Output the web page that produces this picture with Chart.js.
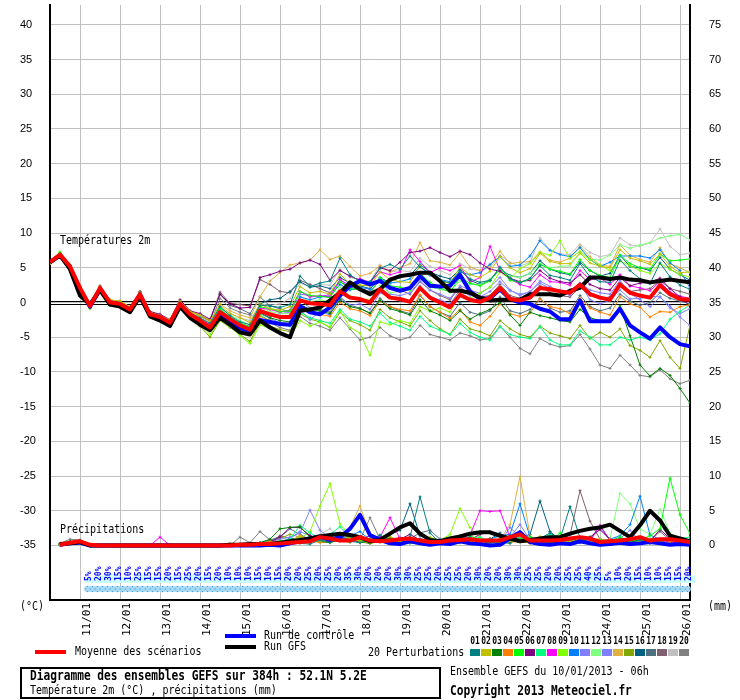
<!DOCTYPE html>
<html lang="fr">
<head>
<meta charset="utf-8">
<title>Diagramme des ensembles GEFS</title>
<script src="https://cdn.jsdelivr.net/npm/chart.js@4.4.1/dist/chart.umd.min.js"></script>
<style>
  html, body { margin: 0; padding: 0; background: #fff; }
  #wrap { width: 740px; height: 700px; }
</style>
</head>
<body>
<div id="wrap"><canvas id="gefs" width="740" height="700"></canvas></div>
<script>
// Echéances (heures depuis le run du 10/01 06h)
const forecastHours = [0,6,12,18,24,30,36,42,48,54,60,66,72,78,84,90,96,102,108,114,120,126,132,138,144,150,156,162,168,174,180,186,192,198,204,210,216,222,228,234,240,246,252,258,264,270,276,282,288,294,300,306,312,318,324,330,336,342,348,354,360,366,372,378,384];
const dayHours = [18,42,66,90,114,138,162,186,210,234,258,282,306,330,354,378];
const dateLabels = ['11/01','12/01','13/01','14/01','15/01','16/01','17/01','18/01','19/01','20/01','21/01','22/01','23/01','24/01','25/01','26/01'];
const tempTicks = [-35,-30,-25,-20,-15,-10,-5,0,5,10,15,20,25,30,35,40];
const mmTicks = [0,5,10,15,20,25,30,35,40,45,50,55,60,65,70,75];

// Probabilité de précipitations (%)
const rainProb = [null,null,null,null,
  5,20,30,15,10,25,15,15,20,15,25,20,15,20,10,10,10,15,10,15,20,20,25,20,25,20,35,30,20,20,
  20,30,30,25,25,20,25,25,20,30,20,20,30,30,25,25,20,20,25,25,40,25,5,10,20,15,10,10,15,15,20];

// Températures 2m
const tMean = [5.8,6.9,5.2,2.1,-0.5,2.1,0,-0.2,-1,1.2, -1.7,-2.1,-2.9,-0.2,-1.7,-2.6,-3.6,-1.4,-2.4,-3.3,
  -3.9,-1.2,-1.7,-2.1,-2.1,0.3,-0.1,-0.2,-0.4,1.6, 0.7,0.5,0,1.9,0.7,0.5,0.1,2.1,0.7,0,
  -0.7,1.1,0.4,0.1,0.7,2.1,0.5,0.3,0.7,2.1, 1.9,1.6,1.4,2.6,1.2,0.7,0.4,2.6,1.4,1, 0.7,2.5,1.2,0.5,0.4];
const tControl = [5.8,6.8,5.0,1.9,-0.6,1.9,-0.2,-0.4,-1.3,1.0, -1.9,-2.4,-3.2,-0.5,-2.0,-3.0,-3.9,-1.8,-2.8,-3.7,
  -4.2,-2.5,-2.8,-3.1,-3.2,-0.5,-1.4,-1.7,-0.7,1.0, 2.4,3.1,2.6,3.1,2.1,1.7,2.1,3.8,2.4,2.3,
  2.4,4.0,1.6,0.5,0.6,1.9,0.5,0,-0.2,-0.9, -1.3,-2.4,-2.4,0.3,-2.7,-2.7,-2.7,-0.9,-3.3,-4.3, -5.2,-3.6,-5.0,-6.0,-6.3];
const tGfs = [5.8,6.8,4.8,1.0,-0.3,1.8,-0.3,-0.6,-1.4,0.9, -2.0,-2.6,-3.4,-0.6,-2.2,-3.2,-4.0,-2.2,-3.2,-4.3,
  -4.6,-2.6,-3.6,-4.4,-5.0,-1.2,-1.0,-0.7,0.3,1.4, 2.9,1.9,1.2,1.9,3.3,3.8,4.0,4.3,4.3,3.1,
  1.7,1.7,1.4,0.7,0.3,0.4,0.4,0.4,1.2,1.2, 1.2,1.0,1.7,2.1,3.6,3.6,3.4,3.6,3.3,3.2, 2.9,3.1,3.3,3.1,2.9];

const tPert01 = [5.9,6.8,5.3,2.3,-0.4,2.0,0.1,-0.1,-1.1,1.4,-1.5,-2.0,-2.8,0.0,-1.6, -2.2,-3.0,-0.6,-1.9,-2.8,-3.2,
  -0.4,-0.5,-0.7,-0.3,3.8,2.3,2.8,3.1,6.4,4.0, 3.0,3.0,4.9,5.5,4.8,6.7,5.1,4.2,3.2,2.8,
  4.6,3.4,2.9,3.2,5.1,3.5,2.8,3.5,5.3,3.9, 3.6,3.2,5.6,3.7,3.0,2.9,6.1,4.6,3.4,2.7,5.7,3.7,2.5,1.9];
const tPert02 = [5.7,6.9,5.1,2.0,-0.6,2.3,0.4,0.2,-0.6,1.5,-1.4,-1.9,-2.5,0.2,-1.3, -1.8,-2.6,-0.4,-1.6,-2.2,-2.9,
  -0.2,-0.9,-1.1,-0.6,2.3,1.4,1.6,1.2,4.1,2.7, 2.5,2.4,4.4,3.3,3.0,2.9,5.3,4.0,3.0,2.8,
  5.1,4.0,3.6,4.5,6.6,5.0,4.3,4.9,7.1,5.9, 5.6,5.6,7.1,5.7,5.2,5.0,7.6,6.4,6.0,5.5,7.0,5.2,4.3,4.4];
const tPert03 = [5.8,7.0,5.0,1.9,-0.7,1.9,-0.2,-0.4,-1.3,1.0,-1.9,-2.4,-3.1,-0.4,-2.0, -2.9,-4.0,-1.6,-2.8,-3.7,-4.3,
  -1.5,-2.2,-2.6,-2.8,-0.3,-1.0,-1.2,-1.6,0.4,-0.6, -0.9,-1.5,0.3,-0.9,-1.3,-1.8,0.4,-1.2,-1.8,-2.6,
  -1.2,-2.4,-1.6,-1.0,0.0,-1.8,-3.3,-1.4,-1.9,-2.2, -2.6,-2.8,-1.0,-2.2,-2.6,-2.7,-0.5,-4.8,-9.0,-10.6,-9.5,-10.5,-12.4,-14.5];
const tPert04 = [5.6,6.8,5.2,2.2,-0.6,2.1,-0.3,-0.5,-1.2,1.3,-1.8,-2.2,-3.0,-0.1,-1.9, -2.8,-3.7,-1.8,-2.9,-3.6,-4.2,
  -2.0,-2.6,-3.0,-3.2,-0.8,-1.4,-1.7,-2.0,0.0,-0.9, -1.2,-1.9,0.2,-0.6,-1.0,-1.2,1.1,-0.6,-1.4,-2.3,
  -1.0,-2.8,-3.3,-2.0,-0.2,-1.6,-2.0,-1.5,0.5,-0.6, -0.9,-1.6,0.6,-0.8,-1.4,-1.8,0.8,-0.2,-0.7,-2.1,-1.3,-1.4,-0.6,-0.3];
const tPert05 = [5.8,7.2,5.4,2.2,-0.4,2.2,0.1,0.0,-0.9,1.3,-1.6,-2.0,-2.7,0.0,-1.6, -2.4,-3.4,-1.0,-2.1,-3.0,-3.5,
  -0.6,-0.9,-1.3,-1.2,1.6,1.0,0.9,0.7,3.0,2.0, 1.8,1.2,3.6,2.4,2.2,1.8,4.2,2.9,2.1,1.5,
  3.6,2.8,2.4,3.1,5.0,3.2,2.9,3.4,5.5,4.8, 4.5,4.1,6.2,4.6,3.9,3.6,6.8,5.6,5.0,4.8,7.0,6.0,6.1,6.3];
const tPert06 = [5.9,7.0,5.3,2.3,-0.3,2.4,0.3,0.1,-0.8,1.6,-1.3,-1.7,-2.5,0.4,-1.2, -1.6,-2.4,1.2,-0.2,-0.8,-0.7,
  3.6,4.0,4.5,4.8,5.7,6.1,5.5,3.2,4.6,3.8, 3.2,2.8,5.0,4.6,5.8,7.2,7.4,7.9,7.2,6.6,
  7.4,6.9,5.7,4.8,4.5,3.5,3.0,3.2,4.6,3.5, 3.0,2.8,4.0,2.6,2.0,1.8,3.6,2.4,2.8,2.9,3.5,2.0,0.8,-0.5];
const tPert07 = [5.7,6.9,5.2,2.0,-0.6,2.0,-0.1,-0.3,-1.1,1.1,-1.8,-2.3,-3.1,-0.3,-1.9, -2.6,-3.3,-0.8,-2.2,-2.9,-3.6,
  -1.8,-2.6,-3.0,-3.4,-1.4,-2.2,-2.6,-3.0,-1.0,-2.4, -2.8,-3.4,-1.5,-2.9,-3.4,-4.0,-2.0,-3.4,-4.0,-4.6,
  -3.0,-4.3,-5.0,-5.4,-3.5,-4.6,-5.0,-5.2,-3.5,-5.4, -6.1,-6.1,-4.1,-5.0,-6.1,-6.1,-5.0,-5.4,-5.0,-5.4,-4.5,-2.4,-1.3,-0.3];
const tPert08 = [5.8,6.9,5.2,2.1,-0.5,2.2,0.2,0.1,-0.8,1.4,-1.6,-1.9,-2.6,0.1,-1.5, -2.3,-3.2,-1.1,-2.0,-3.0,-3.5,
  -0.8,-1.0,-1.4,-1.1,1.6,0.8,1.0,0.9,3.3,2.4, 3.4,2.9,4.4,4.0,4.4,7.6,5.9,4.3,5.0,4.6,
  5.3,2.9,3.6,8.1,4.6,3.4,2.6,2.2,4.0,3.0, 2.9,2.5,4.6,3.3,3.5,2.6,4.0,2.4,2.1,1.7,3.0,1.5,0.9,0.6];
const tPert09 = [5.7,7.3,5.0,1.8,-0.8,1.9,-0.2,-0.5,-1.4,1.0,-2.0,-2.5,-3.3,-0.5,-2.2, -3.2,-4.6,-2.6,-3.5,-4.8,-5.9,
  -3.2,-3.8,-4.3,-5.0,-2.6,-3.4,-2.8,-3.5,-1.2,-3.6, -4.4,-7.6,-2.8,-3.2,-2.6,-3.0,-0.6,-1.2,-0.8,-1.4,
  1.2,0.6,1.4,2.2,4.4,3.4,4.9,5.6,7.2,6.8, 8.9,6.3,7.4,6.2,5.4,4.6,6.0,5.3,4.6,4.2,5.6,4.8,4.0,3.7];
const tPert10 = [5.9,7.0,5.2,2.0,-0.5,2.1,0.0,-0.2,-1.0,1.2,-1.7,-2.1,-3.0,-0.3,-1.8, -2.7,-3.8,-1.6,-2.5,-3.4,-4.0,
  -1.0,-1.8,-2.2,-2.0,0.8,0.4,0.8,0.9,2.6,1.8, 2.2,1.9,3.6,2.8,3.0,3.4,5.2,3.9,3.3,3.0,
  4.4,4.0,4.3,5.5,6.6,5.2,5.4,6.7,8.9,7.5, 6.9,6.6,7.9,6.2,5.2,5.8,6.7,6.7,6.7,6.4,7.6,5.7,4.6,2.1];
const tPert11 = [5.8,6.8,5.2,2.1,-0.4,2.1,0.1,-0.1,-0.9,1.3,-1.6,-2.0,-2.8,-0.1,-1.6, -2.5,-3.5,-1.3,-2.3,-3.2,-3.7,
  -1.6,-2.3,-2.9,-3.3,-1.0,-2.5,-1.3,-1.8,0.6,-0.4, -0.2,-1.0,1.4,0.8,0.3,0.0,2.4,0.8,0.4,-0.2,
  1.8,1.0,0.8,1.6,3.0,1.7,1.2,1.5,3.1,2.3, 1.6,1.2,2.7,0.4,-0.2,0.3,1.8,0.5,0.6,0.9,0.8,-0.5,-2.1,-3.3];
const tPert12 = [5.8,6.9,5.3,2.2,-0.4,2.3,0.2,0.0,-0.8,1.4,-1.5,-1.9,-2.6,0.0,-1.5, -2.2,-3.1,-0.8,-1.8,-2.6,-3.2,
  -0.7,-1.3,-1.6,-1.6,0.9,0.1,0.4,0.1,2.2,1.0, 0.6,0.4,2.4,1.4,1.6,1.8,3.5,2.2,1.9,1.6,
  3.1,2.6,2.6,3.4,4.8,3.8,3.6,4.2,5.6,5.0, 5.2,5.3,7.1,6.2,6.1,6.8,8.3,7.8,8.3,8.6,9.3,9.6,9.8,9.0];
const tPert13 = [5.7,6.9,5.1,2.0,-0.6,2.0,-0.1,-0.3,-1.1,1.1,-1.8,-2.2,-3.0,-0.3,-1.8, -2.7,-3.7,-1.7,-2.6,-3.5,-4.1,
  -1.4,-2.0,-1.6,-1.4,1.2,1.0,0.8,1.2,3.3,2.0, 1.8,1.4,3.4,1.2,1.0,1.4,3.1,1.8,1.2,0.6,
  2.4,1.8,1.3,2.2,3.6,1.8,1.0,1.6,2.8,2.0, 1.8,1.0,2.8,1.8,1.4,1.2,3.2,1.3,0.4,-0.6,0.8,-0.8,-1.6,-0.9];
const tPert14 = [5.8,7.1,5.3,2.2,-0.4,2.3,0.3,0.2,-0.7,1.6,-1.3,-1.8,-2.5,0.2,-1.3, -2.0,-2.8,-0.2,-1.2,-1.8,-2.2,
  0.8,3.1,4.3,5.4,5.7,6.1,7.6,6.2,6.7,5.2, 3.8,4.2,5.3,4.4,5.0,5.6,8.6,6.0,5.8,5.4,
  7.2,5.1,4.6,5.3,7.4,5.6,5.8,5.9,7.3,6.1, 5.8,6.4,8.1,6.6,5.4,5.2,8.3,6.8,6.2,5.8,7.9,5.6,5.0,4.3];
const tPert15 = [5.7,7.0,5.0,1.8,-0.9,1.8,-0.4,-0.6,-1.4,1.0,-2.1,-2.6,-3.4,-0.6,-2.3, -3.4,-5.0,-2.6,-3.6,-4.6,-5.6,
  -2.8,-3.4,-3.9,-4.2,-1.6,-2.4,-2.8,-3.6,-1.4,-2.6, -3.2,-4.0,-1.0,-2.2,-2.8,-3.4,-1.2,-2.6,-3.8,-4.6,
  -2.4,-3.8,-4.2,-4.8,-2.6,-3.8,-4.6,-5.0,-3.4,-4.4, -4.8,-5.2,-3.3,-5.2,-4.3,-5.0,-3.8,-6.2,-6.9,-7.9,-5.5,-7.9,-9.5,-3.3];
const tPert16 = [5.9,7.0,5.3,2.1,-0.5,2.2,0.1,0.0,-0.9,1.3,-1.6,-2.0,-2.8,-0.1,-1.6, -2.4,-3.4,-1.2,-2.2,-3.0,-3.5,
  -0.2,0.4,0.6,1.6,3.0,2.2,2.4,2.0,3.6,2.8, 2.4,2.0,3.4,3.0,3.6,3.9,5.5,4.4,3.8,3.4,
  4.8,3.2,2.6,3.2,4.8,3.9,3.6,4.2,6.0,4.8, 4.3,4.0,5.8,4.6,3.8,4.2,6.8,5.2,5.0,4.6,6.5,4.8,4.0,3.2];
const tPert17 = [5.8,6.9,5.2,2.1,-0.5,2.0,0.0,-0.2,-1.0,1.2,-1.7,-2.1,-2.9,-0.2,-1.7, -2.0,-2.6,1.2,-0.4,-0.9,-1.6,
  0.8,-0.5,-0.9,-1.4,0.4,-0.8,-1.0,-1.4,0.8,-0.4, -0.8,-1.6,0.6,-0.6,-1.2,-1.6,1.0,-0.6,-1.4,-2.0,
  0.0,-1.4,-1.8,-1.2,0.8,-1.2,-1.6,-1.0,0.6,-0.8, -1.4,-1.2,1.0,-0.6,-1.2,-0.8,1.2,0.2,-0.4,0.0,1.4,0.6,0.2,-0.2];
const tPert18 = [5.8,6.9,5.2,2.2,-0.4,2.2,0.2,0.0,-0.9,1.4,-1.5,-1.9,-2.6,0.1,-1.4, -1.8,-2.6,1.5,-0.1,-0.3,-0.5,
  3.3,2.6,1.6,1.4,3.2,2.6,2.0,1.4,3.0,2.2, 2.0,1.6,3.2,2.0,1.8,1.2,3.0,1.8,1.0,0.4,
  2.2,1.2,0.8,1.0,2.6,1.0,0.6,1.2,2.4,1.4, 1.0,0.8,2.2,1.0,0.6,0.8,2.8,1.6,1.8,2.0,3.2,2.0,1.6,1.2];
const tPert19 = [5.9,7.0,5.3,2.3,-0.3,2.3,0.3,0.2,-0.7,1.6,-1.3,-1.7,-2.4,0.3,-1.2, -1.9,-2.8,-0.8,-1.6,-2.2,-2.6,
  -0.2,-0.4,-0.2,0.6,2.8,2.3,2.6,2.5,4.8,3.6, 3.4,3.0,5.4,4.4,4.6,4.4,6.4,5.2,4.6,4.0,
  5.6,4.8,4.6,5.0,6.8,5.8,5.2,5.8,9.3,7.6, 7.0,6.9,8.4,7.2,6.6,6.9,9.3,8.3,8.1,8.6,10.6,8.1,6.9,7.1];
const tPert20 = [5.7,6.8,5.0,1.9,-0.7,1.9,-0.3,-0.4,-1.2,1.0,-1.9,-2.4,-3.2,-0.5,-2.0, -2.6,-3.2,0.6,-0.8,-1.4,-1.8,
  -2.4,-2.9,-3.6,-4.0,-2.0,-3.0,-3.4,-4.0,-2.2,-3.8, -5.4,-5.0,-3.6,-4.8,-5.4,-5.0,-3.3,-4.6,-5.0,-5.4,
  -4.4,-4.8,-5.4,-5.2,-3.4,-5.0,-6.6,-7.4,-5.2,-6.0, -6.4,-6.2,-4.6,-6.7,-9.0,-9.5,-7.6,-9.0,-10.5,-10.7,-9.7,-11.0,-11.7,-11.2];

// Précipitations (mm / 6h)
const pMean = [null, 0.1,0.4,0.6,0.1,0,0,0,0,0,0, 0,0,0,0,0,0,0,0,0.1,0.1, 0.2,0.2,0.3,0.4,0.5,0.6,1.2,1.0,0.7,0.7,
  1.2,0.7,0.6,0.7,0.9,1.0,0.7,0.5,0.5,0.7, 0.8,0.9,0.7,0.7,0.7,1.2,1.6,0.7,0.7,0.7, 0.8,1.0,1.2,1.0,0.5,0.6,0.7,0.9,1.2,0.7, 0.9,0.9,0.7,0.5];
const pControl = [null, 0.1,0.3,0.4,0,0,0,0,0,0,0, 0,0,0,0,0,0,0,0,0,0, 0,0.1,0,0.3,0.6,1.0,1.3,0.8,1.2,2.4,
  4.4,1.5,0.8,0.3,0.2,0.6,0.3,0.1,0.3,0.2, 0.6,0.3,0.2,0,0.1,1.0,1.9,0.5,0.2,0.1, 0.3,0.2,0.6,0.3,0.1,0.2,0.4,0.2,0.3,0.5, 0.3,0.1,0.2,0.1];
const pGfs = [null, 0.2,0.3,0.5,0,0,0,0,0,0,0, 0,0,0,0,0,0,0,0.1,0.1,0.2, 0.2,0.2,0.4,0.6,0.8,1.0,1.3,1.5,1.7,1.5,
  1.2,0.6,0.8,1.7,2.6,3.2,1.7,0.8,0.6,1.0, 1.3,1.7,1.9,1.9,1.4,1.0,0.6,0.8,1.0,1.2, 1.2,1.7,2.1,2.4,2.6,3.0,2.1,1.2,2.9,5.0, 3.6,1.4,1.0,0.6];

const pPert01 = [null, 0.2,0.5,0.6,0.1,0,0,0,0,0,0, 0,0,0,0,0,0,0,0,0.2,0.1, 0.3,0.2,0.4,0.6,0.3,0.2,0.8,0.5,1.2,0.6,
  0.4,0.8,1.5,0.6,0.8,1.2,7.0,1.8,0.4,0.3, 0.9,1.2,0.6,0.4,0.5,0.3,1.6,0.4,1.0,1.8, 0.9,5.6,1.1,0.4,0.3,0.6,0.9,0.4,0.8,0.5, 0.3,1.2,0.6,0.4];
const pPert02 = [null, 0.1,0.4,0.5,0.1,0,0,0,0,0,0, 0,0,0,0,0,0,0,0,0,0, 0.1,0.3,0.2,0.5,1.4,0.8,0.6,0.9,1.6,1.0,
  0.6,0.4,0.8,1.3,0.5,0.4,0.7,1.1,0.6,0.3, 0.5,0.8,0.4,0.3,0.9,0.6,0.5,0.4,1.3,0.7, 0.4,0.6,1.0,0.5,0.2,0.8,0.4,0.3,0.6,0.9, 0.5,0.3,0.2,0.4];
const pPert03 = [null, 0.2,0.6,0.7,0.1,0,0,0,0,0,0, 0,0,0,0,0,0,0,0,0,0.2, 0.4,0.9,2.4,2.6,2.7,1.2,0.6,0.4,0.8,1.0,
  0.5,0.3,0.6,1.1,0.9,0.4,0.3,0.6,0.8,0.5, 0.4,1.0,0.6,0.3,0.8,1.4,2.0,0.6,0.4,0.3, 0.6,0.8,0.4,1.2,0.5,0.3,0.6,0.4,0.8,0.3, 0.5,0.2,0.4,0.3];
const pPert04 = [null, 0.1,0.3,0.5,0.1,0,0,0,0,0,0, 0,0,0,0,0,0,0,0.3,0,0.1, 0.2,0.6,0.3,0.5,1.4,0.7,0.4,0.5,0.8,0.6,
  1.0,0.4,0.6,0.5,0.3,0.8,0.4,0.6,0.2,0.5, 0.6,0.4,0.8,0.5,0.9,0.4,0.7,0.3,0.5,0.6, 0.8,0.4,0.6,0.3,0.4,0.9,0.5,0.3,0.6,0.8, 1.0,0.6,0.8,0.5];
const pPert05 = [null, 0.2,0.5,0.6,0.1,0,0,0,0,0,0, 0,0,0,0,0,0,0,0,0,0, 0.1,0.3,0.6,0.4,0.5,0.8,0.6,1.2,0.7,0.5,
  0.8,0.4,0.6,1.0,0.5,0.3,0.7,0.4,0.6,0.9, 0.5,1.4,0.8,0.6,0.4,0.7,0.9,1.2,0.5,0.6, 1.8,0.9,0.6,0.4,0.8,0.5,1.2,0.6,0.8,1.4, 2.4,9.7,4.4,1.7];
const pPert06 = [null, 0.1,0.4,0.5,0.1,0,0,0,0,0,0, 0,0,0,0,0,0,0,0,0,0, 0.3,0.5,1.2,2.6,2.6,1.4,0.8,0.5,1.0,0.6,
  0.8,1.4,0.6,0.4,0.9,1.6,0.8,0.4,0.6,0.5, 1.2,0.8,1.6,2.0,1.4,0.6,0.8,0.5,0.4,0.6, 0.9,0.6,0.8,1.2,2.3,0.9,0.5,0.8,1.2,0.6, 2.3,1.0,0.6,0.4];
const pPert07 = [null, 0.1,0.3,0.5,0.1,0,0,0,0,0,0, 0,0,0,0,0,0,0,0,0,0, 0.2,0.4,0.6,0.9,2.9,1.8,1.0,1.6,2.7,1.2,
  0.6,0.9,0.5,0.4,0.8,0.6,0.4,1.0,0.5,0.3, 0.6,0.9,1.2,0.5,0.6,0.4,1.0,0.6,0.9,1.6, 0.8,0.5,0.6,1.0,0.4,0.7,1.2,0.6,0.4,0.9, 0.6,0.8,1.0,1.2];
const pPert08 = [null, 0.2,0.5,0.6,0.1,0,0,0,0,0,0, 1.2,0,0,0,0,0,0,0,0,0, 0.2,0.3,0.5,0.4,0.6,0.8,1.0,0.6,0.9,0.7,
  0.5,0.8,1.2,4.0,0.9,0.6,0.4,0.8,0.6,0.5, 1.0,1.5,5.0,4.9,5.0,1.2,0.8,0.4,0.6,0.9, 0.6,0.8,1.0,0.6,2.9,0.8,0.5,0.9,1.1,0.6, 0.8,0.5,0.4,0.6];
const pPert09 = [null, 0.1,0.4,0.6,0.1,0,0,0,0,0,0, 0,0,0,0,0,0,0,0,0,0, 0.1,0.2,0.4,0.6,1.0,2.0,5.7,8.9,3.1,1.4,
  0.6,0.4,0.8,1.0,0.6,0.8,0.5,1.2,0.7,1.6, 5.3,2.6,1.0,0.6,0.8,0.5,1.4,0.6,0.9,1.2, 0.7,0.9,0.6,1.0,0.5,0.8,0.6,1.2,0.9,0.7, 1.0,0.6,0.8,0.5];
const pPert10 = [null, 0.1,0.4,0.5,0.1,0,0,0,0,0,0, 0,0,0,0,0,0,0,0,0,0.1, 0.3,0.5,0.2,0.6,0.8,1.2,0.9,0.6,1.0,1.4,
  2.0,0.8,0.6,0.4,1.0,0.7,0.5,0.9,0.4,0.6, 1.2,0.8,0.5,0.9,1.4,1.6,6.0,1.2,0.6,0.4, 0.8,0.6,1.0,0.4,0.6,0.9,1.4,3.0,7.1,1.5, 0.9,0.6,0.4,0.5];
const pPert11 = [null, 0.2,0.4,0.6,0.1,0,0,0,0,0,0, 0,0,0,0,0,0,0,0,0,0, 0.3,0.6,0.9,1.2,1.8,5.1,2.2,1.0,0.8,0.6,
  0.9,0.5,0.8,0.4,0.6,1.0,0.7,0.5,0.9,0.6, 0.4,0.6,0.5,0.8,0.9,1.2,3.0,0.8,0.5,0.6, 0.4,0.7,0.9,0.5,0.6,0.4,0.8,0.5,1.0,0.6, 0.5,0.7,0.4,0.3];
const pPert12 = [null, 0.1,0.3,0.5,0.1,0,0,0,0,0,0, 0,0,0,0,0,0,0,0,0,0, 0.2,0.4,0.6,0.8,0.6,0.9,1.2,0.8,0.6,1.0,
  0.7,0.5,0.9,0.6,0.8,1.1,0.6,0.4,0.8,1.2, 0.6,0.9,1.0,0.5,0.8,0.6,0.9,1.2,0.7,0.5, 0.9,0.6,1.2,0.8,0.5,1.0,7.5,6.0,2.4,1.6, 5.2,1.8,0.9,0.6];
const pPert13 = [null, 0.1,0.4,0.6,0.1,0,0,0,0,0,0, 0,0,0,0,0,0,0,0,0,0, 0.2,0.5,0.4,1.0,2.0,1.4,0.8,0.6,0.9,0.5,
  0.7,1.0,0.6,0.5,1.2,0.8,0.4,0.6,0.9,0.5, 0.8,0.5,1.0,0.6,0.4,2.6,1.2,0.6,0.8,0.5, 0.6,0.9,0.5,0.7,0.4,0.8,1.0,2.2,0.6,0.5, 0.8,0.4,0.6,0.3];
const pPert14 = [null, 0.1,0.4,0.6,0.1,0,0,0,0,0,0, 0,0,0,0,0,0,0,0,0.2,0, 0.2,0.4,0.5,0.8,0.6,1.0,1.4,0.9,1.2,2.6,
  5.7,1.6,0.8,0.5,0.7,0.9,0.4,0.6,0.8,0.5, 0.6,0.9,0.7,0.4,0.8,3.0,9.9,1.4,0.6,0.8, 0.5,0.9,0.6,0.8,1.0,0.5,0.7,0.9,0.6,0.8, 0.6,0.5,0.9,0.7];
const pPert15 = [null, 0.1,0.3,0.5,0.1,0,0,0,0,0,0, 0,0,0,0,0,0,0,0,0,0, 0.3,0.6,1.0,1.6,1.2,0.8,0.6,1.0,0.7,0.5,
  0.8,0.6,1.0,0.7,0.5,0.9,0.6,0.8,0.4,0.6, 0.9,0.5,0.7,1.0,0.6,0.8,1.2,0.5,0.7,0.9, 0.6,0.8,1.1,0.7,0.5,0.9,0.6,1.0,0.8,0.6, 0.9,0.7,0.5,0.8];
const pPert16 = [null, 0.1,0.3,0.5,0.1,0,0,0,0,0,0, 0,0,0,0,0,0,0,0,0,0, 0.2,0.5,0.4,1.0,0.8,0.6,1.0,1.4,0.8,0.6,
  0.9,0.7,1.2,1.6,2.2,6.0,1.4,0.8,0.6,1.0, 1.4,0.8,0.6,0.9,1.8,0.7,1.0,1.6,6.4,2.0, 0.8,0.6,1.0,0.9,2.8,0.7,0.5,0.9,0.6,0.8, 0.6,0.5,0.7,0.4];
const pPert17 = [null, 0.2,0.5,0.7,0.1,0,0,0,0,0,0, 0,0,0,0,0,0,0,0,0,0.1, 0.4,0.8,1.2,2.4,1.6,0.8,0.6,1.0,0.8,0.7,
  0.5,0.9,1.4,0.8,0.6,1.0,1.8,2.2,0.9,0.6, 0.8,0.5,0.9,0.7,0.6,1.0,0.8,0.5,0.7,0.9, 0.6,0.8,0.7,1.0,0.6,0.5,0.9,0.7,0.6,0.8, 0.5,0.7,0.6,0.4];
const pPert18 = [null, 0.1,0.4,0.6,0.1,0,0,0,0,0,0, 0,0,0,0,0,0,0,0,0,0, 0.3,0.6,1.4,1.0,0.8,0.6,1.0,0.9,0.7,1.2,
  0.6,1.0,0.8,0.5,0.9,0.7,0.6,1.0,0.5,0.8, 0.6,0.9,0.7,1.0,0.6,0.8,1.2,0.6,0.9,0.7, 0.8,1.5,7.9,3.5,0.9,0.6,0.8,0.6,1.0,0.7, 2.0,0.8,0.5,0.6];
const pPert19 = [null, 0.2,0.5,0.6,0.1,0,0,0,0,0,0, 0,0,0,0,0,0,0,0,0,0, 0.2,0.4,0.7,0.6,0.9,1.2,1.6,2.4,1.0,0.7,
  0.6,0.9,0.5,0.8,0.6,1.0,0.7,0.5,0.9,0.6, 0.7,0.5,0.9,0.6,1.0,0.8,1.2,0.7,0.5,0.8, 0.6,0.9,0.7,1.0,2.2,0.8,0.6,1.0,0.7,0.9, 0.6,0.8,0.7,0.5];
const pPert20 = [null, 0.3,0.9,0.8,0.1,0,0,0,0,0,0, 0,0,0,0,0,0,0,0,1.2,0.4, 2.0,0.8,0.6,0.9,0.7,1.0,0.8,0.6,0.9,1.2,
  0.8,4.0,0.9,0.6,0.8,0.5,1.0,0.7,0.6,0.9, 0.7,0.6,1.0,0.8,0.5,0.9,0.6,0.8,0.7,1.0, 0.6,0.8,0.5,0.9,0.7,0.6,1.0,0.8,0.6,0.7, 0.5,0.6,0.8,0.4];

const pertColors = ['#008080','#c0c000','#008000','#ff8000','#00ff00','#800080','#00ff80','#ff00ff','#80ff00','#0080ff',
  '#8080ff','#80ff80','#8080ff','#e0b040','#80a800','#006080','#507080','#806070','#c0c0c0','#808080'];
const pertCodes = ['01','02','03','04','05','06','07','08','09','10','11','12','13','14','15','16','17','18','19','20'];

const tPerts = [tPert01,tPert02,tPert03,tPert04,tPert05,tPert06,tPert07,tPert08,tPert09,tPert10,
  tPert11,tPert12,tPert13,tPert14,tPert15,tPert16,tPert17,tPert18,tPert19,tPert20];
const pPerts = [pPert01,pPert02,pPert03,pPert04,pPert05,pPert06,pPert07,pPert08,pPert09,pPert10,
  pPert11,pPert12,pPert13,pPert14,pPert15,pPert16,pPert17,pPert18,pPert19,pPert20];

// --------------------------------------------------------------------------

const MONO = '"DejaVu Sans Mono", "Liberation Mono", monospace';

const thinLine = (data, color, axis, order) => ({
    data, yAxisID: axis, order,
    borderColor: color, backgroundColor: color,
    borderWidth: 1, tension: 0,
    pointStyle: 'cross', pointRadius: 1.5, pointBorderWidth: 1
});

const thickLine = (data, color, axis, order) => ({
    data, yAxisID: axis, order,
    borderColor: color, backgroundColor: color,
    borderWidth: 4, borderJoinStyle: 'round', tension: 0, pointRadius: 0
});

const datasets = [];
tPerts.forEach((d, k) => datasets.push(thinLine(d, pertColors[k], 'y', 3 + k)));
pPerts.forEach((d, k) => datasets.push(thinLine(d, pertColors[k], 'y2', 3 + k)));
datasets.push(thickLine(tControl, '#0000ff', 'y', 2), thickLine(pControl, '#0000ff', 'y2', 2));
datasets.push(thickLine(tGfs, '#000000', 'y', 1), thickLine(pGfs, '#000000', 'y2', 1));
datasets.push(thickLine(tMean, '#ff0000', 'y', 0), thickLine(pMean, '#ff0000', 'y2', 0));

const noPad = s => { s.paddingTop = 0; s.paddingBottom = 0; s.paddingLeft = 0; s.paddingRight = 0; };

// texte mono un peu étiré en hauteur (aspect police bitmap)
const tallText = (ctx, text, x, y, font, align) => {
    ctx.save();
    ctx.font = font;
    ctx.textAlign = align || 'left';
    ctx.textBaseline = 'middle';
    ctx.translate(x, y);
    ctx.scale(1, 1.2);
    ctx.fillText(text, 0, 0);
    ctx.restore();
};

// --------------------------------------------------------------------------

// Ligne du zéro, bandeau de probabilités, légendes et cartouche
const decor = {
    id: 'decor',
    beforeDatasetsDraw(chart) {
        const { ctx, chartArea: a, scales: { x, y } } = chart;
        const y0 = Math.round(y.getPixelForValue(0));
        ctx.save();
        ctx.fillStyle = '#000';
        ctx.fillRect(a.left, y0 - 2, a.right - a.left, 1);
        ctx.fillRect(a.left, y0 + 1, a.right - a.left, 1);

        // bandeau cyan + pictos
        rainProb.forEach((p, i) => {
            if (p === null) return;
            const px = x.getPixelForValue(forecastHours[i]);
            const h = 4 + p * 0.17;
            ctx.fillStyle = '#ccffff';
            ctx.fillRect(px - 5, 583 - h, 10, h);
        });
        for (let cx = 87.5; cx < a.right; cx += 5) {
            ctx.fillStyle = '#a4d8f4';
            ctx.beginPath();
            ctx.arc(cx, 589, 3.3, 0, Math.PI * 2);
            ctx.fill();
            ctx.fillStyle = '#3c9ee6';
            ctx.fillRect(cx - 0.5, 586, 1, 1);
            ctx.fillRect(cx - 0.5, 591, 1, 1);
            ctx.fillRect(cx - 2.5, 588.5, 1, 1);
            ctx.fillRect(cx + 1.5, 588.5, 1, 1);
        }
        ctx.fillStyle = '#0000ff';
        ctx.font = 'bold 8px ' + MONO;
        ctx.textAlign = 'left';
        ctx.textBaseline = 'middle';
        rainProb.forEach((p, i) => {
            if (p === null) return;
            const px = x.getPixelForValue(forecastHours[i]);
            ctx.save();
            ctx.translate(px - 1.5, 581);
            ctx.rotate(-Math.PI / 2);
            ctx.scale(1, 1.15);
            ctx.fillText(p + '%', 0, 0);
            ctx.restore();
        });
        ctx.restore();
    },
    afterDraw(chart) {
        const { ctx } = chart;
        const reg = '10px ' + MONO;
        const bold = 'bold 11.2px ' + MONO;
        ctx.save();
        ctx.fillStyle = '#000';
        tallText(ctx, 'Températures 2m', 60, 241, reg);
        tallText(ctx, 'Précipitations', 60, 530, reg);
        tallText(ctx, '(°C)', 20, 607, reg);
        tallText(ctx, '(mm)', 708, 607, reg);

        // légende
        ctx.fillStyle = '#ff0000';
        ctx.fillRect(35, 650, 31, 4);
        ctx.fillStyle = '#0000ff';
        ctx.fillRect(225, 634, 31, 4);
        ctx.fillStyle = '#000';
        ctx.fillRect(225, 645, 31, 4);
        tallText(ctx, 'Moyenne des scénarios', 75, 652, reg);
        tallText(ctx, 'Run de contrôle', 264, 636, reg);
        tallText(ctx, 'Run GFS', 264, 647, reg);
        tallText(ctx, '20 Perturbations', 368, 653, reg);
        pertColors.forEach((c, k) => {
            const bx = 470 + k * 11;
            ctx.fillStyle = c;
            ctx.fillRect(bx, 649, 10, 7);
            ctx.fillStyle = '#000';
            tallText(ctx, pertCodes[k], bx + 5, 642, 'bold 8px ' + MONO, 'center');
        });

        // cartouche
        ctx.strokeStyle = '#000';
        ctx.lineWidth = 2;
        ctx.strokeRect(21, 668, 419, 30);
        tallText(ctx, 'Diagramme des ensembles GEFS sur 384h : 52.1N 5.2E', 30, 677, bold);
        tallText(ctx, 'Température 2m (°C) , précipitations (mm)', 30, 691, reg);
        tallText(ctx, 'Ensemble GEFS du 10/01/2013 - 06h', 450, 672, reg);
        tallText(ctx, 'Copyright 2013 Meteociel.fr', 450, 692, bold);
        ctx.restore();
    }
};

new Chart(document.getElementById('gefs'), {
    type: 'line',
    data: { labels: forecastHours, datasets },
    plugins: [decor],
    options: {
        responsive: false,
        animation: false,
        devicePixelRatio: 1,
        events: [],
        layout: { padding: { left: 20, top: 0, right: 0, bottom: 0 } },
        plugins: { legend: { display: false }, tooltip: { enabled: false } },
        scales: {
            x: {
                type: 'linear', min: 0, max: 384,
                afterBuildTicks: s => { s.ticks = dayHours.map(v => ({ value: v })); },
                afterFit: s => { s.height = 100; noPad(s); },
                ticks: {
                    callback: (v, i) => dateLabels[i],
                    autoSkip: false, minRotation: 90, maxRotation: 90,
                    padding: 3, labelOffset: 7,
                    color: '#000', font: { family: MONO, size: 11 }
                },
                grid: { color: '#c0c0c0', drawTicks: false },
                border: { color: '#000', width: 2 }
            },
            y: {
                type: 'linear', position: 'left', min: -42.857, max: 42.857,
                afterBuildTicks: s => { s.ticks = tempTicks.map(v => ({ value: v })); },
                afterFit: s => { s.width = 30; noPad(s); },
                ticks: {
                    crossAlign: 'far', color: '#000',
                    font: { family: 'Liberation Sans', size: 11 }
                },
                grid: { color: '#c0c0c0', drawTicks: false },
                border: { color: '#000', width: 2 }
            },
            y2: {
                type: 'linear', position: 'right', min: -7.857, max: 77.857,
                afterBuildTicks: s => { s.ticks = mmTicks.map(v => ({ value: v })); },
                afterFit: s => { s.width = 50; noPad(s); },
                ticks: {
                    padding: 19, color: '#000',
                    font: { family: 'Liberation Sans', size: 11 }
                },
                grid: { display: false, drawTicks: false },
                border: { color: '#000', width: 2 }
            }
        }
    }
});
</script>
</body>
</html>
